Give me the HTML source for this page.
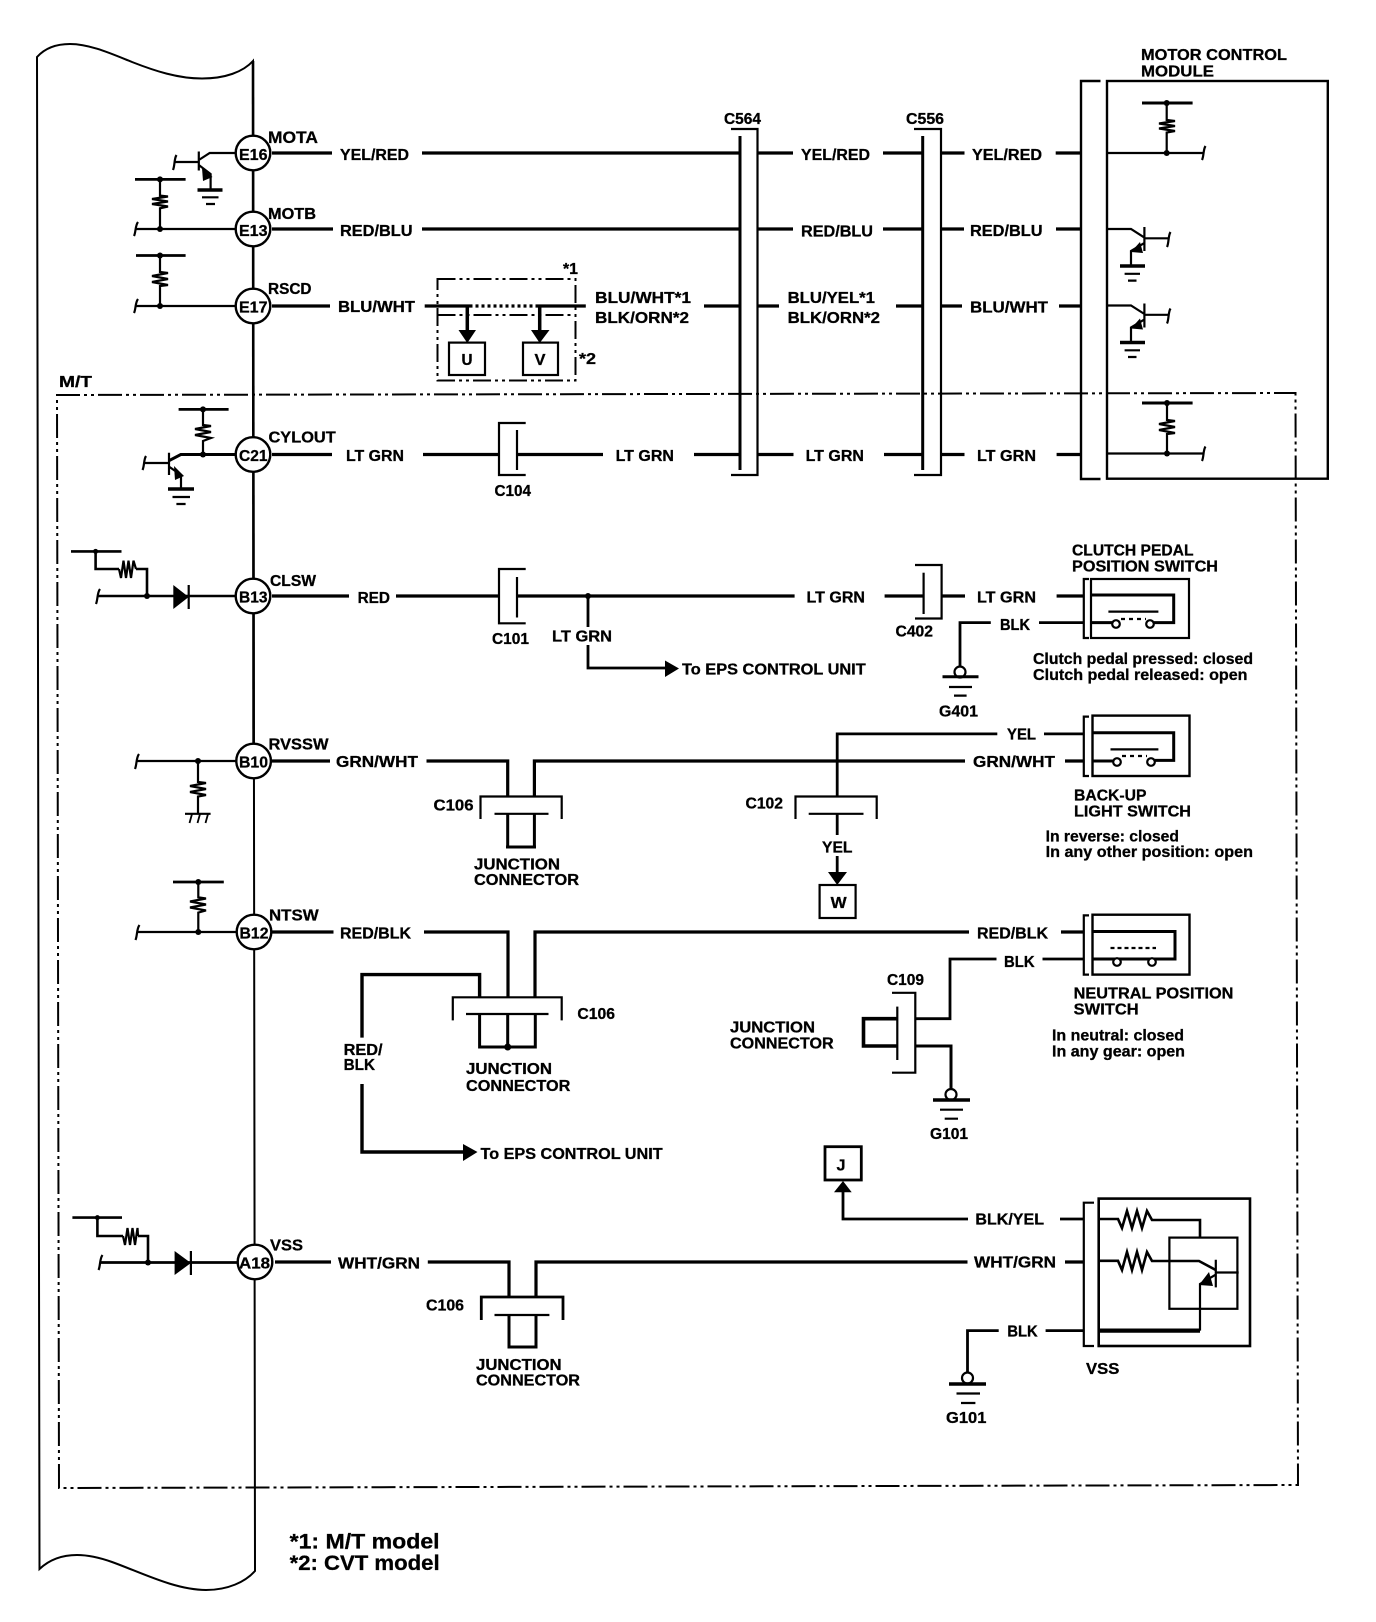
<!DOCTYPE html>
<html><head><meta charset="utf-8"><title>Wiring diagram</title>
<style>
html,body{margin:0;padding:0;background:#fff}
svg{display:block}
.t text{font-family:"Liberation Sans",Arial,sans-serif;font-weight:bold;font-size:16px;fill:#000;stroke:#000;stroke-width:.3px}
</style></head><body>
<svg width="1376" height="1622" viewBox="0 0 1376 1622" xmlns="http://www.w3.org/2000/svg">
<rect width="1376" height="1622" fill="#fff"/>
<!-- ECU panel -->
<g fill="none" stroke="#000" stroke-width="2">
<path d="M37 57C46 47 58 44 70 44C90 44 112 54 132 62C155 71 178 78.5 202 78.5C225 78.5 243 72 253 61L255 1571C245 1582 228 1590 206 1590C175 1590 140 1572 112 1562C98 1557 88 1555 77 1555C60 1555 48 1561 39.5 1569Z"/>
<path d="M253 61L253.600 761" stroke-width="2.600"/>
</g>
<!-- dash-dot boxes -->
<g fill="none" stroke="#000" stroke-width="2">
<path d="M59 1488L57 395L1295.5 393L1298 1485Z" stroke-dasharray="24 4 3 4 3 4"/>
<rect x="437.5" y="279" width="138" height="101.5" stroke-dasharray="18 4 3 4 3 4"/>
<path d="M437.5 315H575.5" stroke-dasharray="18 4 3 4 3 4"/>
</g>
<!-- main wires -->
<g fill="none" stroke="#000" stroke-width="3.200">
<path d="M272 153H332M422 153H740M758 153H793M883 153H923M941.5 153H964.5M1055.7 153H1081"/>
<path d="M272 229H333M422 229H740M758 229H793M883 229H923M941.5 229H964M1056 229H1081"/>
<path d="M272 306H330M424.7 306H469.5M537.5 306H585.8M704 306H740M758 306H779M896 306H923M941 306H962M1059 306H1081"/>
<path d="M469.5 306H537.5" stroke-dasharray="3 3"/>
<path d="M272 454.5H332M423 454.5H499M517 454.5H603M694 454.5H740M758 454.5H793.5M884 454.5H923M941.5 454.5H964.5M1056.6 454.5H1081"/>
<path d="M272 596H349M396 596H499M517 596H794.6M884.6 596H923.6M942.5 596H965M1056.6 596H1083.8"/>
<path d="M272 761H330M426.5 761H507.7V796.5M534.4 796.5V761H965M1065 761H1083.8"/>
<path d="M272 932H333.5M424 932H508V997.3M535 997.3V932H969M1061 932H1083.8"/>
<path d="M275 1262H331M427.8 1262H509V1297M536 1297V1262H967.5M1065 1262H1083.8"/>
<path d="M960 667.4V622.6H990.8M1039 622.6H1083.8" stroke-width="2.800"/>
<path d="M997.3 733.9H837.2V796.5M1044 733.9H1083.8" stroke-width="2.800"/>
<path d="M837.2 813.8V835M837.2 856V873" stroke-width="2.800"/>
<path d="M588 596V627M588 645V668H666" stroke-width="2.800"/>
<path d="M996.5 959H950V1018.7H916M1042.5 959H1083.8" stroke-width="2.800"/>
<path d="M916 1046H951V1090" stroke-width="3"/>
<path d="M897.3 1018.7H863.5V1046H897.3" stroke-width="3.600"/>
<path d="M479.6 997.3V974.6H362V1037.6M362 1084V1152H464" stroke-width="3.400"/>
<path d="M507.7 813.8V847M534.4 813.8V847M506 847H536" stroke-width="3"/>
<path d="M479.6 1014V1047H535.3V1014M507.7 1014V1047" stroke-width="3"/>
<path d="M509 1315V1347H536V1315" stroke-width="3"/>
<path d="M968 1219H843V1192M1060 1219H1083.8" stroke-width="2.800"/>
<path d="M998.7 1330.6H967.5V1373M1045.6 1330.6H1084" stroke-width="2.800"/>
<path d="M467.3 306V331M539.7 306V331" stroke-width="3.500"/>
</g>
<!-- arrowheads -->
<g fill="#000" stroke="none">
<path d="M458.5 330H476L467.3 343Z"/><path d="M531 330H549.5L539.7 343Z"/>
<path d="M665 660.5L679 668.5L665 677Z"/>
<path d="M828 872H847L837.2 885Z"/>
<path d="M463 1144L477.5 1152L463 1161Z"/>
<path d="M834 1192.3H851.7L843 1181Z"/>
<path d="M173.3 585L188.7 597L173.3 609Z"/>
<path d="M174.6 1251L190.9 1263L174.6 1275Z"/>
<path d="M202 168L212.500 177L203 181Z"/><path d="M174 466L184 476L175 480Z"/>
<path d="M1131 252L1140 242L1143 253Z"/><path d="M1131 328.5L1140 318.5L1143 329.5Z"/>
<path d="M1199 1285L1209 1272L1213 1286Z"/>
<circle cx="1166.7" cy="103" r="3"/><circle cx="1166.7" cy="153" r="3"/>
<circle cx="1167" cy="403" r="3"/><circle cx="1167" cy="453.5" r="3"/>
<circle cx="160" cy="179.4" r="3"/><circle cx="160" cy="229" r="3"/>
<circle cx="160" cy="255.5" r="3"/><circle cx="160" cy="306" r="3"/>
<circle cx="203" cy="409.4" r="3"/><circle cx="203" cy="454.5" r="3"/>
<circle cx="95.6" cy="551.4" r="2.5"/><circle cx="147" cy="596" r="3"/>
<circle cx="588" cy="596" r="3"/>
<circle cx="198" cy="761" r="3"/><circle cx="198.3" cy="882" r="3"/><circle cx="198.3" cy="932" r="3"/>
<circle cx="97.4" cy="1217.6" r="2.5"/><circle cx="148" cy="1262.5" r="3"/>
<circle cx="507.7" cy="1047" r="3.5"/>
</g>
<!-- connectors, boxes, sub-circuits -->
<g fill="none" stroke="#000" stroke-width="2.200">
<!-- C564 / C556 -->
<path d="M731 129H757.5V475H731"/><path d="M740 136V470" stroke-width="3"/>
<path d="M914 129H941V475H914"/><path d="M922.7 136V470" stroke-width="3"/>
<!-- motor module -->
<path d="M1100.5 81H1081V479H1100.5" stroke-width="2.400"/>
<rect x="1107" y="81" width="220.8" height="397.7" stroke-width="2.400"/>
<path d="M1142 103H1192.6" stroke-width="3"/>
<path d="M1166.7 103V120L1175 121L1159 123.5L1175 126L1159 128.5L1175 131L1166.7 132.500V153"/>
<path d="M1107 153H1203.6M1205.500 146C1203 150 1204 156 1202 160"/>
<path d="M1142 403H1192.6" stroke-width="3"/>
<path d="M1167 403V420L1175 421L1159 424L1175 427L1159 430L1175 433L1167 434V453.5"/>
<path d="M1107 453.5H1203.6M1205.500 446.5C1203 450 1204 457 1202 461"/>
<path d="M1107 229H1131L1144.4 237.6M1144.4 227V251M1144.4 238.3H1168.5M1170.500 232C1168 236 1169 243 1167 247M1144.4 243L1131 251V265"/>
<path d="M1120 266H1145" stroke-width="3.500"/><path d="M1124.6 273.8H1140M1128 280.6H1136.5"/>
<path d="M1107 305.5H1131L1144.4 314M1144.4 303.5V327.5M1144.4 314.8H1168.5M1170.500 308.5C1168 312.5 1169 319.5 1167 323.5M1144.4 319.5L1131 327.5V341.5"/>
<path d="M1120 342.5H1145" stroke-width="3.500"/><path d="M1124.6 350.3H1140M1128 357H1136.5"/>
<!-- U V -->
<rect x="449" y="342.6" width="36" height="32.4"/><rect x="523" y="342.6" width="35" height="32.4"/>
<!-- E16 transistor -->
<path d="M236 153H209.7L198.8 160M198.8 151.5V170.5M198.8 162H174.6M176.500 155C174 159 175 165 173 170M198.8 165L210.6 174V190"/>
<path d="M197.5 190H222.5" stroke-width="3.500"/><path d="M202 197.3H218.5M206 204H215"/>
<!-- pull-ups -->
<path d="M135 179.4H185.6" stroke-width="2.800"/>
<path d="M160 179.4V195.600L168 196.500L152 199L168 201.500L152 204L168 206.500L160 208.300V229"/>
<path d="M136 229H236M138 222C135 226 136 232 134 236"/>
<path d="M136 255.5H185.6" stroke-width="2.800"/>
<path d="M160 255.5V272L168 273L152 276L168 279L152 282L168 285L160 286V306"/>
<path d="M136 306H236M138 299C135 303 136 309 134 313"/>
<!-- C21 -->
<path d="M178.6 409.4H228.6" stroke-width="2.800"/>
<path d="M203 409.4V425L211 426L195 429L211 432L195 435L211 438L203 441V454.5"/>
<path d="M236 454.5H180.8L169 460.7" stroke-width="3"/>
<path d="M169 452.8V475M169 463H144M146 456C143.5 460 144.5 466 142.5 470M169 466.6L181 475V489"/>
<path d="M168 489H194" stroke-width="3.500"/><path d="M172.5 497H190M176.4 504H185.6"/>
<!-- C104, C101, C402 -->
<path d="M525.7 423H499V475H525.7"/><path d="M517 430V470"/>
<path d="M525.7 569H499V623.3H525.7"/><path d="M517 577V617.5"/>
<path d="M915 565H941.6V618.5H915"/><path d="M923.6 572.7V614"/>
<!-- B13 sub -->
<path d="M71 551.4H121.5" stroke-width="2.600"/>
<path d="M95.6 551.4V569H119M136 569H147V596" stroke-width="2.600"/>
<path d="M119 569L121 578L123.500 560.7L126 578L128.500 560.7L131 578L133.500 560.7L136 569"/>
<path d="M97.4 596H236" stroke-width="2.600"/><path d="M100 589C97 593 98 599 96 604"/>
<path d="M188.7 585V609"/>
<!-- switches -->
<path d="M1089 579H1083.8V638H1089"/>
<rect x="1091" y="579" width="98" height="59"/>
<path d="M1091 595H1173.7V622.6H1154M1091 622.6H1112" stroke-width="3"/>
<path d="M1108.4 611.6H1158.4"/>
<circle cx="1116" cy="624" r="3.800" fill="#fff"/><circle cx="1150" cy="624" r="3.800" fill="#fff"/>
<path d="M1121 619H1146" stroke-dasharray="4 4"/>
<path d="M1089 716.6H1083.8V776H1089"/>
<rect x="1092.5" y="715.6" width="97" height="60.4" stroke-width="2.400"/>
<path d="M1092.5 732.8H1173.7V760.4H1155M1092.5 761H1113" stroke-width="3"/>
<path d="M1110.5 749.4H1158.4"/>
<circle cx="1117" cy="762" r="3.800" fill="#fff"/><circle cx="1151" cy="762" r="3.800" fill="#fff"/>
<path d="M1122 756H1147" stroke-dasharray="4 4"/>
<path d="M1089 915.4H1083.8V974.6H1089"/>
<rect x="1092.5" y="914.7" width="97" height="59.9" stroke-width="2.400"/>
<path d="M1092.5 931.5H1175V959H1160M1092.5 959H1160" stroke-width="3"/>
<circle cx="1117" cy="962" r="3.800" fill="#fff"/><circle cx="1152" cy="962" r="3.800" fill="#fff"/>
<path d="M1110.5 948H1156" stroke-dasharray="4 3"/>
<!-- grounds -->
<circle cx="960" cy="672" r="5.500"/>
<path d="M942.5 676.7H978.5" stroke-width="3"/><path d="M949 687H972M954 695.6H966.6"/>
<circle cx="951" cy="1094.5" r="5.500"/>
<path d="M933 1100H970" stroke-width="3.500"/><path d="M940 1109.7H963M944.7 1118.7H958"/>
<circle cx="967.5" cy="1378" r="5.500"/>
<path d="M949 1384H986" stroke-width="3.500"/><path d="M956.5 1393.5H980M961 1403H975.4"/>
<!-- C106 top -->
<path d="M480.5 819V796.5H561.7V819"/><path d="M494.5 813.8H548.5"/>
<path d="M795.5 819V796.5H876.7V819"/><path d="M808.7 813.8H863.5"/>
<rect x="819.6" y="885" width="36" height="33"/>
<!-- B10 sub -->
<path d="M137 761H236M139 754C136 758 137 764 135 769"/>
<path d="M198 761V782L206 783L190 786L206 789L190 792L206 795L198 796.5V813.8"/>
<path d="M185 813.8H210.6"/><path d="M192 814L189.5 823M200 814L197.5 823M208 814L205.5 823" stroke-width="1.800"/>
<!-- B12 sub -->
<path d="M173 882H223.8" stroke-width="2.800"/>
<path d="M198.3 882V897.4L206 898.500L190 901.500L206 904.500L190 907.500L206 910.500L198.3 912.6V932"/>
<path d="M137.3 932H238M139.500 925C136.5 929 137.5 935 135.5 940"/>
<!-- C106 mid -->
<path d="M452.8 1020.4V997.3H561.7V1020.4"/><path d="M466 1014H548.5"/>
<!-- C109 -->
<path d="M892 992.8H915.3V1072.7H892"/><path d="M897.3 1006.6V1060"/>
<!-- J -->
<rect x="825" y="1146.7" width="36.3" height="33.3" stroke-width="2.800"/>
<!-- A18 sub -->
<path d="M72.4 1217.6H122" stroke-width="2.600"/>
<path d="M97.4 1217.6V1236H123M138 1236H148V1262.5" stroke-width="2.600"/>
<path d="M123 1236L125 1245L127.500 1228L130 1245L132.500 1228L135 1245L137.500 1228L138 1236"/>
<path d="M100 1262.5H237.4" stroke-width="2.800"/><path d="M102.500 1255C99.5 1259 100.5 1266 98.5 1270"/>
<path d="M190.9 1251V1275"/>
<path d="M481.3 1320V1297H563V1320" stroke-width="2.800"/><path d="M494.5 1315H549.4"/>
<!-- VSS -->
<path d="M1094 1202.7H1083.8V1346H1094"/>
<rect x="1098.7" y="1198.6" width="151.3" height="147.4" stroke-width="2.600"/>
<rect x="1169.4" y="1237.6" width="68" height="71.2"/>
<path d="M1098.7 1219H1118L1122 1228L1127 1211L1132 1228L1137 1211L1142 1228L1147 1211L1152 1220H1200V1238" stroke-width="2.600"/>
<path d="M1098.7 1260.8H1118L1122 1270L1127 1252L1132 1270L1137 1252L1142 1270L1147 1252L1152 1261H1199L1215.8 1270" stroke-width="2.600"/>
<path d="M1215.8 1259.7V1287.4M1215.8 1272.5H1238.7M1215.8 1274.6L1200 1284V1330.6"/>
<path d="M1200 1330.6H1098.7" stroke-width="4.200"/>
</g>
<!-- pin circles -->
<g fill="#fff" stroke="#000" stroke-width="2.400">
<circle cx="253" cy="153" r="17.3"/><circle cx="253" cy="229" r="17.3"/><circle cx="253" cy="306" r="17.3"/>
<circle cx="253" cy="454.5" r="17.3"/><circle cx="253" cy="596" r="17.3"/><circle cx="253.6" cy="761" r="17.3"/>
<circle cx="254" cy="932" r="17.3"/><circle cx="255" cy="1262" r="17.3"/>
</g>
<!-- labels -->
<g class="t">
<text x="239" y="160" textLength="28.5" lengthAdjust="spacingAndGlyphs">E16</text>
<text x="239" y="236" textLength="28.5" lengthAdjust="spacingAndGlyphs">E13</text>
<text x="239" y="312.5" textLength="28.5" lengthAdjust="spacingAndGlyphs">E17</text>
<text x="239" y="461" textLength="28.5" lengthAdjust="spacingAndGlyphs">C21</text>
<text x="239" y="602.5" textLength="28.5" lengthAdjust="spacingAndGlyphs">B13</text>
<text x="239" y="767.5" textLength="29" lengthAdjust="spacingAndGlyphs">B10</text>
<text x="239.5" y="938.5" textLength="29" lengthAdjust="spacingAndGlyphs">B12</text>
<text x="239" y="1268.5" textLength="31" lengthAdjust="spacingAndGlyphs">A18</text>
<text x="268" y="143" textLength="50" lengthAdjust="spacingAndGlyphs" style="font-size:17px">MOTA</text>
<text x="340" y="160" textLength="69" lengthAdjust="spacingAndGlyphs">YEL/RED</text>
<text x="268" y="219" textLength="48" lengthAdjust="spacingAndGlyphs">MOTB</text>
<text x="340" y="236" textLength="72.5" lengthAdjust="spacingAndGlyphs">RED/BLU</text>
<text x="268" y="294" textLength="43.5" lengthAdjust="spacingAndGlyphs">RSCD</text>
<text x="338" y="312" textLength="77" lengthAdjust="spacingAndGlyphs">BLU/WHT</text>
<text x="563" y="274" textLength="15" lengthAdjust="spacingAndGlyphs">*1</text>
<text x="595" y="303" textLength="96" lengthAdjust="spacingAndGlyphs">BLU/WHT*1</text>
<text x="595" y="323" textLength="94" lengthAdjust="spacingAndGlyphs">BLK/ORN*2</text>
<text x="461.5" y="365" textLength="11" lengthAdjust="spacingAndGlyphs">U</text>
<text x="534.5" y="365" textLength="11" lengthAdjust="spacingAndGlyphs">V</text>
<text x="579" y="364" textLength="17" lengthAdjust="spacingAndGlyphs">*2</text>
<text x="59" y="387" textLength="33" lengthAdjust="spacingAndGlyphs">M/T</text>
<text x="268.5" y="442.5" textLength="67.2" lengthAdjust="spacingAndGlyphs">CYLOUT</text>
<text x="346" y="461" textLength="58" lengthAdjust="spacingAndGlyphs">LT GRN</text>
<text x="494.5" y="496" textLength="36.5" lengthAdjust="spacingAndGlyphs">C104</text>
<text x="615.6" y="461" textLength="58.4" lengthAdjust="spacingAndGlyphs">LT GRN</text>
<text x="1141" y="60" textLength="146" lengthAdjust="spacingAndGlyphs">MOTOR CONTROL</text>
<text x="1141" y="76.5" textLength="73" lengthAdjust="spacingAndGlyphs">MODULE</text>
<text x="724" y="124" textLength="37" lengthAdjust="spacingAndGlyphs">C564</text>
<text x="906" y="124" textLength="38" lengthAdjust="spacingAndGlyphs">C556</text>
<text x="801" y="160" textLength="69" lengthAdjust="spacingAndGlyphs">YEL/RED</text>
<text x="972" y="160" textLength="70" lengthAdjust="spacingAndGlyphs">YEL/RED</text>
<text x="801" y="236.5" textLength="72" lengthAdjust="spacingAndGlyphs">RED/BLU</text>
<text x="970" y="236" textLength="72.5" lengthAdjust="spacingAndGlyphs">RED/BLU</text>
<text x="787.6" y="303" textLength="87.4" lengthAdjust="spacingAndGlyphs">BLU/YEL*1</text>
<text x="787.6" y="323" textLength="92.4" lengthAdjust="spacingAndGlyphs">BLK/ORN*2</text>
<text x="970" y="312.5" textLength="78" lengthAdjust="spacingAndGlyphs">BLU/WHT</text>
<text x="805.6" y="461" textLength="58.4" lengthAdjust="spacingAndGlyphs">LT GRN</text>
<text x="977" y="461" textLength="59" lengthAdjust="spacingAndGlyphs">LT GRN</text>
<text x="270" y="586" textLength="46" lengthAdjust="spacingAndGlyphs">CLSW</text>
<text x="357.6" y="603" textLength="32.4" lengthAdjust="spacingAndGlyphs">RED</text>
<text x="492" y="644" textLength="37" lengthAdjust="spacingAndGlyphs">C101</text>
<text x="552" y="641.6" textLength="60" lengthAdjust="spacingAndGlyphs">LT GRN</text>
<text x="268.5" y="749.4" textLength="60" lengthAdjust="spacingAndGlyphs">RVSSW</text>
<text x="336" y="767" textLength="82" lengthAdjust="spacingAndGlyphs">GRN/WHT</text>
<text x="433.5" y="810.7" textLength="40" lengthAdjust="spacingAndGlyphs">C106</text>
<text x="474" y="869.5" textLength="86" lengthAdjust="spacingAndGlyphs">JUNCTION</text>
<text x="474" y="885" textLength="105" lengthAdjust="spacingAndGlyphs">CONNECTOR</text>
<text x="269" y="920.5" textLength="49.6" lengthAdjust="spacingAndGlyphs">NTSW</text>
<text x="340" y="938.4" textLength="71" lengthAdjust="spacingAndGlyphs">RED/BLK</text>
<text x="577.4" y="1019" textLength="37.6" lengthAdjust="spacingAndGlyphs">C106</text>
<text x="343.6" y="1054.8" textLength="39" lengthAdjust="spacingAndGlyphs">RED/</text>
<text x="343.6" y="1070" textLength="31.4" lengthAdjust="spacingAndGlyphs">BLK</text>
<text x="466" y="1074" textLength="86" lengthAdjust="spacingAndGlyphs">JUNCTION</text>
<text x="466" y="1091" textLength="104.4" lengthAdjust="spacingAndGlyphs">CONNECTOR</text>
<text x="1072" y="555.5" textLength="121.5" lengthAdjust="spacingAndGlyphs">CLUTCH PEDAL</text>
<text x="1072" y="571.3" textLength="146" lengthAdjust="spacingAndGlyphs">POSITION SWITCH</text>
<text x="806.5" y="602.7" textLength="58.5" lengthAdjust="spacingAndGlyphs">LT GRN</text>
<text x="977" y="602.7" textLength="59" lengthAdjust="spacingAndGlyphs">LT GRN</text>
<text x="1000" y="630" textLength="30" lengthAdjust="spacingAndGlyphs">BLK</text>
<text x="895.5" y="636.4" textLength="37.5" lengthAdjust="spacingAndGlyphs">C402</text>
<text x="682" y="674.6" textLength="183.7" lengthAdjust="spacingAndGlyphs">To EPS CONTROL UNIT</text>
<text x="1033" y="664" textLength="220" lengthAdjust="spacingAndGlyphs">Clutch pedal pressed: closed</text>
<text x="1033" y="680" textLength="214.5" lengthAdjust="spacingAndGlyphs">Clutch pedal released: open</text>
<text x="939" y="716.3" textLength="39" lengthAdjust="spacingAndGlyphs">G401</text>
<text x="1007" y="739.7" textLength="29" lengthAdjust="spacingAndGlyphs">YEL</text>
<text x="973" y="767" textLength="82" lengthAdjust="spacingAndGlyphs">GRN/WHT</text>
<text x="1074" y="800.7" textLength="72.5" lengthAdjust="spacingAndGlyphs">BACK-UP</text>
<text x="1074" y="816.5" textLength="117" lengthAdjust="spacingAndGlyphs">LIGHT SWITCH</text>
<text x="1045.6" y="841.6" textLength="133.4" lengthAdjust="spacingAndGlyphs">In reverse: closed</text>
<text x="1045.6" y="857" textLength="207.4" lengthAdjust="spacingAndGlyphs">In any other position: open</text>
<text x="745.5" y="808.6" textLength="37.5" lengthAdjust="spacingAndGlyphs">C102</text>
<text x="822" y="852.7" textLength="30.5" lengthAdjust="spacingAndGlyphs">YEL</text>
<text x="830.6" y="907.8" textLength="16" lengthAdjust="spacingAndGlyphs">W</text>
<text x="977" y="938.4" textLength="71" lengthAdjust="spacingAndGlyphs">RED/BLK</text>
<text x="1004" y="967" textLength="30.6" lengthAdjust="spacingAndGlyphs">BLK</text>
<text x="887" y="985" textLength="37" lengthAdjust="spacingAndGlyphs">C109</text>
<text x="1073.7" y="998.7" textLength="159.7" lengthAdjust="spacingAndGlyphs">NEUTRAL POSITION</text>
<text x="1073.7" y="1014.5" textLength="64.9" lengthAdjust="spacingAndGlyphs">SWITCH</text>
<text x="730" y="1032.4" textLength="85" lengthAdjust="spacingAndGlyphs">JUNCTION</text>
<text x="730" y="1048.3" textLength="103.7" lengthAdjust="spacingAndGlyphs">CONNECTOR</text>
<text x="1052" y="1040.7" textLength="132" lengthAdjust="spacingAndGlyphs">In neutral: closed</text>
<text x="1052" y="1056.5" textLength="133" lengthAdjust="spacingAndGlyphs">In any gear: open</text>
<text x="480.5" y="1158.8" textLength="182.1" lengthAdjust="spacingAndGlyphs">To EPS CONTROL UNIT</text>
<text x="270" y="1250.4" textLength="33" lengthAdjust="spacingAndGlyphs">VSS</text>
<text x="338" y="1268.4" textLength="82" lengthAdjust="spacingAndGlyphs">WHT/GRN</text>
<text x="426" y="1310.6" textLength="38" lengthAdjust="spacingAndGlyphs">C106</text>
<text x="476" y="1370" textLength="85.6" lengthAdjust="spacingAndGlyphs">JUNCTION</text>
<text x="476" y="1385.6" textLength="104" lengthAdjust="spacingAndGlyphs">CONNECTOR</text>
<text x="930" y="1138.8" textLength="38" lengthAdjust="spacingAndGlyphs">G101</text>
<text x="836.5" y="1170.5" textLength="9" lengthAdjust="spacingAndGlyphs">J</text>
<text x="975.4" y="1224.5" textLength="68.6" lengthAdjust="spacingAndGlyphs">BLK/YEL</text>
<text x="974" y="1267.3" textLength="82" lengthAdjust="spacingAndGlyphs">WHT/GRN</text>
<text x="1007.4" y="1336.5" textLength="30.3" lengthAdjust="spacingAndGlyphs">BLK</text>
<text x="1086" y="1373.8" textLength="33.3" lengthAdjust="spacingAndGlyphs">VSS</text>
<text x="946" y="1423" textLength="40.4" lengthAdjust="spacingAndGlyphs">G101</text>
<text x="289.6" y="1548.4" textLength="150" lengthAdjust="spacingAndGlyphs" style="font-size:21px">*1: M/T model</text>
<text x="289.6" y="1569.8" textLength="150" lengthAdjust="spacingAndGlyphs" style="font-size:21px">*2: CVT model</text>
</g>
</svg>
</body></html>
